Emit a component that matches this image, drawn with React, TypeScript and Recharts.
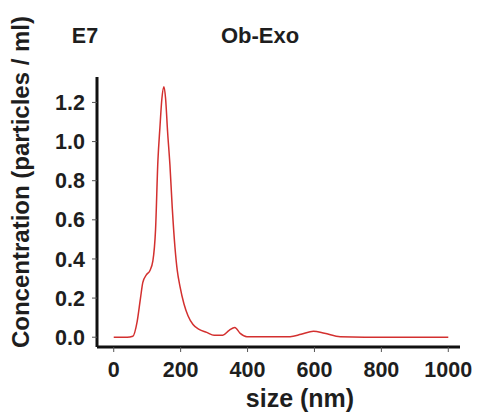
import React from 'react';
import { Line, LineChart, XAxis, YAxis } from 'recharts';

// particle size (nm) and concentration (E7 particles / ml)
const sizes = [
  0, 20, 40, 57, 70, 80, 87, 98, 108, 117, 125, 132, 138, 144, 150, 155, 161, 168, 175, 183, 190, 198,
  210, 222, 237, 255, 278, 300, 326, 345, 362, 378, 398, 450, 527, 560, 597, 630, 677, 750, 850, 1000,
];
const concentration = [
  0, 0, 0, 0.005, 0.08, 0.2, 0.28, 0.32, 0.34, 0.39, 0.55, 0.9, 1.07, 1.22, 1.28, 1.22, 1.05, 0.88, 0.66,
  0.46, 0.34, 0.26, 0.17, 0.11, 0.065, 0.04, 0.025, 0.01, 0.01, 0.035, 0.05, 0.02, 0.003, 0.002, 0.003,
  0.015, 0.03, 0.02, 0.002, 0, 0, 0,
];
const xTicks = [0, 200, 400, 600, 800, 1000];
const yTicks = [0, 0.2, 0.4, 0.6, 0.8, 1.0, 1.2];

const data = sizes.map((s, i) => ({ size: s, value: concentration[i] }));

const font = 'Liberation Sans, Arial, sans-serif';
const tickStyle = { fontFamily: font, fontSize: 21.5, fontWeight: 700, fill: '#1e1e1e' };

const App = () => {
  return (
    <div style={{ position: 'absolute', left: 0, top: 0, width: 481, height: 415, background: '#fff' }}>
      <LineChart width={481} height={415} data={data} margin={{ top: 77, right: 21, left: 37, bottom: 18 }}>
        <XAxis
          dataKey="size"
          type="number"
          domain={[-50, 1035]}
          ticks={xTicks}
          allowDataOverflow
          axisLine={{ stroke: '#111', strokeWidth: 3 }}
          tickLine={{ stroke: '#555', strokeWidth: 1 }}
          tickSize={5}
          tickMargin={10}
          tick={tickStyle}
          height={50}
        />
        <YAxis
          type="number"
          domain={[-0.05, 1.33]}
          ticks={yTicks}
          allowDataOverflow
          tickFormatter={(v) => v.toFixed(1)}
          axisLine={{ stroke: '#111', strokeWidth: 3 }}
          tickLine={{ stroke: '#555', strokeWidth: 1 }}
          tickSize={5}
          tickMargin={7}
          tick={tickStyle}
          width={60}
        />
        <Line
          type="monotone"
          dataKey="value"
          stroke="#d3302f"
          strokeWidth={1.5}
          dot={false}
          isAnimationActive={false}
        />
        <text x={85} y={43} textAnchor="middle" style={{ ...tickStyle, fontSize: 21.5 }}>
          E7
        </text>
        <text x={260} y={43} textAnchor="middle" style={{ ...tickStyle, fontSize: 22 }}>
          Ob-Exo
        </text>
        <text x={300} y={407} textAnchor="middle" style={{ ...tickStyle, fontSize: 25 }}>
          size (nm)
        </text>
        <text
          x={20}
          y={182}
          textAnchor="middle"
          dominantBaseline="central"
          transform="rotate(-90, 20, 182)"
          style={{ ...tickStyle, fontSize: 24 }}
        >
          Concentration (particles / ml)
        </text>
      </LineChart>
    </div>
  );
};

export default App;
